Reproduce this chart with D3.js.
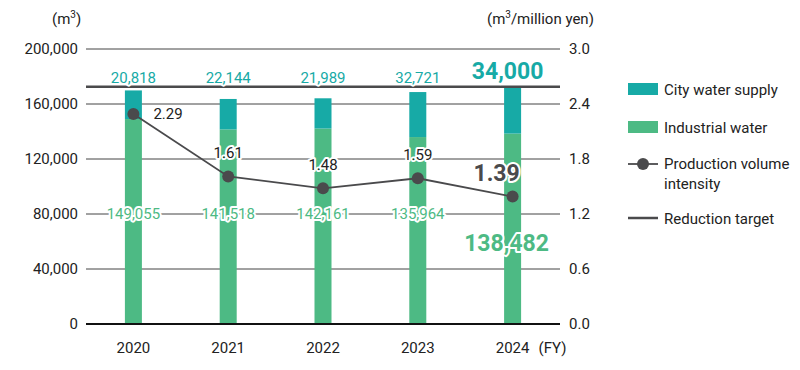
<!DOCTYPE html>
<html>
<head>
<meta charset="utf-8">
<script src="https://cdn.jsdelivr.net/npm/d3@7"></script>
<style>
  body { margin: 0; background: #fff; }
  svg text { font-family: Roboto, "Liberation Sans", sans-serif; }
</style>
</head>
<body>
<div id="chart_container"></div>
<script>
// Data
var years = ["2020", "2021", "2022", "2023", "2024"];
var industrial = [149055, 141518, 142161, 135964, 138482];
var city = [20818, 22144, 21989, 32721, 34000];
var intensity = [2.29, 1.61, 1.48, 1.59, 1.39];
var target = 172482;
var left_ticks = [0, 40000, 80000, 120000, 160000, 200000];
var right_ticks = [0, 0.6, 1.2, 1.8, 2.4, 3.0];

// Chart dimensions
var width = 800, height = 370;
var margin = {top: 49, right: 240, bottom: 46, left: 86};
var plot_w = width - margin.left - margin.right;
var plot_h = height - margin.top - margin.bottom;

var teal = "#17aaa6", green = "#4dba84", gray = "#4a4a4c";

var x_scale = d3.scaleBand().domain(years).range([0, plot_w]);
var y_scale = d3.scaleLinear().domain([0, 200000]).range([plot_h, 0]);
var y2_scale = d3.scaleLinear().domain([0, 3]).range([plot_h, 0]);
var bar_w = 17;

var svg = d3.select("#chart_container")
    .append("svg")
    .attr("width", width)
    .attr("height", height);

var chart = svg.append("g")
    .attr("transform", "translate(" + margin.left + "," + margin.top + ")");

// Gridlines
chart.append("g")
    .selectAll("line")
    .data(left_ticks.slice(1))
    .enter()
    .append("line")
    .attr("x1", 0).attr("x2", plot_w)
    .attr("y1", function(d) { return y_scale(d); })
    .attr("y2", function(d) { return y_scale(d); })
    .attr("stroke", "#444")
    .attr("stroke-width", 1);

// Left axis labels
chart.append("g")
    .selectAll("text")
    .data(left_ticks)
    .enter()
    .append("text")
    .attr("x", -8)
    .attr("y", function(d) { return y_scale(d); })
    .attr("dy", "0.36em")
    .attr("text-anchor", "end")
    .style("font-size", "15px")
    .attr("fill", "#222")
    .text(function(d) { return d3.format(",")(d); });

// Right axis labels
chart.append("g")
    .selectAll("text")
    .data(right_ticks)
    .enter()
    .append("text")
    .attr("x", plot_w + 9)
    .attr("y", function(d) { return y2_scale(d); })
    .attr("dy", "0.36em")
    .style("font-size", "15px")
    .attr("fill", "#222")
    .text(function(d) { return d.toFixed(1); });

// Bars
var bars = chart.append("g");
bars.selectAll(".ind")
    .data(years)
    .enter()
    .append("rect")
    .attr("x", function(d) { return x_scale(d) + x_scale.bandwidth() / 2 - bar_w / 2; })
    .attr("y", function(d, i) { return y_scale(industrial[i]); })
    .attr("width", bar_w)
    .attr("height", function(d, i) { return y_scale(0) - y_scale(industrial[i]); })
    .attr("fill", green);
bars.selectAll(".city")
    .data(years)
    .enter()
    .append("rect")
    .attr("x", function(d) { return x_scale(d) + x_scale.bandwidth() / 2 - bar_w / 2; })
    .attr("y", function(d, i) { return y_scale(industrial[i] + city[i]); })
    .attr("width", bar_w)
    .attr("height", function(d, i) { return y_scale(industrial[i]) - y_scale(industrial[i] + city[i]); })
    .attr("fill", teal);

// Baseline
chart.append("line")
    .attr("x1", 0).attr("x2", plot_w)
    .attr("y1", y_scale(0)).attr("y2", y_scale(0))
    .attr("stroke", "#111")
    .attr("stroke-width", 2);

// Reduction target
chart.append("line")
    .attr("x1", 0).attr("x2", plot_w)
    .attr("y1", y_scale(target)).attr("y2", y_scale(target))
    .attr("stroke", gray)
    .attr("stroke-width", 2.5);

// Intensity line
var cx = function(i) { return x_scale(years[i]) + x_scale.bandwidth() / 2; };
chart.append("path")
    .datum(intensity)
    .attr("d", d3.line()
        .x(function(d, i) { return cx(i); })
        .y(function(d) { return y2_scale(d); }))
    .attr("fill", "none")
    .attr("stroke", gray)
    .attr("stroke-width", 1.8);
chart.selectAll(".dot")
    .data(intensity)
    .enter()
    .append("circle")
    .attr("cx", function(d, i) { return cx(i); })
    .attr("cy", function(d) { return y2_scale(d); })
    .attr("r", 6)
    .attr("fill", gray);

// Value labels (white halo)
function halo(sel) {
    return sel.attr("stroke", "#fff")
        .attr("stroke-width", 4)
        .attr("paint-order", "stroke")
        .attr("stroke-linejoin", "round");
}
var last = years.length - 1;

halo(chart.append("g").selectAll("text")
    .data(city)
    .enter()
    .append("text")
    .attr("x", function(d, i) { return i == last ? cx(i) - 5 : cx(i); })
    .attr("y", function(d, i) { return i == last ? y_scale(industrial[i] + d) - 8 : y_scale(target) - 4; })
    .attr("text-anchor", "middle")
    .style("font-size", function(d, i) { return i == last ? "23px" : "15px"; })
    .style("font-weight", function(d, i) { return i == last ? "bold" : "normal"; })
    .attr("fill", teal)
    .text(function(d) { return d3.format(",")(d); }));

halo(chart.append("g").selectAll("text")
    .data(industrial)
    .enter()
    .append("text")
    .attr("x", function(d, i) { return i == last ? cx(i) - 6 : cx(i); })
    .attr("y", function(d, i) { return i == last ? y_scale(80000) + 29 : y_scale(80000); })
    .attr("dy", "0.36em")
    .attr("text-anchor", "middle")
    .style("font-size", function(d, i) { return i == last ? "23px" : "15px"; })
    .style("font-weight", function(d, i) { return i == last ? "bold" : "normal"; })
    .attr("fill", green)
    .text(function(d) { return d3.format(",")(d); }));

halo(chart.append("g").selectAll("text")
    .data(intensity)
    .enter()
    .append("text")
    .attr("x", function(d, i) { return i == 0 ? cx(i) + 20 : (i == last ? cx(i) - 16 : cx(i)); })
    .attr("y", function(d, i) { return i == 0 ? y2_scale(d) + 5 : (i == last ? y2_scale(d) - 16 : y2_scale(d) - 18); })
    .attr("text-anchor", function(d, i) { return i == 0 ? "start" : "middle"; })
    .style("font-size", function(d, i) { return i == last ? "23px" : "15px"; })
    .style("font-weight", function(d, i) { return i == last ? "bold" : "normal"; })
    .attr("fill", function(d, i) { return i == last ? gray : "#222"; })
    .text(function(d) { return d.toFixed(2); }));

// X axis labels
chart.append("g")
    .selectAll("text")
    .data(years)
    .enter()
    .append("text")
    .attr("x", function(d, i) { return cx(i); })
    .attr("y", plot_h + 29)
    .attr("text-anchor", "middle")
    .style("font-size", "15px")
    .attr("fill", "#222")
    .text(function(d) { return d; });
chart.append("text")
    .attr("x", cx(last) + 26)
    .attr("y", plot_h + 29)
    .style("font-size", "15px")
    .attr("fill", "#222")
    .text("(FY)");

// Units
svg.append("text")
    .attr("x", 52).attr("y", 24)
    .style("font-size", "15px").attr("fill", "#222")
    .html("(m<tspan dy='-6' font-size='10'>3</tspan><tspan dy='6'>)</tspan>");
svg.append("text")
    .attr("x", 487).attr("y", 24)
    .style("font-size", "15px").attr("fill", "#222")
    .html("(m<tspan dy='-6' font-size='10'>3</tspan><tspan dy='6'>/million yen)</tspan>");

// Legend
var legend = svg.append("g").attr("transform", "translate(628,0)");
legend.append("rect").attr("x", 0).attr("y", 83).attr("width", 30).attr("height", 12).attr("fill", teal);
legend.append("rect").attr("x", 0).attr("y", 121).attr("width", 30).attr("height", 12).attr("fill", green);
legend.append("line").attr("x1", 0).attr("x2", 30).attr("y1", 164).attr("y2", 164).attr("stroke", gray).attr("stroke-width", 1.8);
legend.append("circle").attr("cx", 15).attr("cy", 164).attr("r", 6).attr("fill", gray);
legend.append("line").attr("x1", 0).attr("x2", 30).attr("y1", 218).attr("y2", 218).attr("stroke", gray).attr("stroke-width", 2.5);
var leg_text = [["City water supply", 95], ["Industrial water", 133], ["Production volume", 169], ["intensity", 189], ["Reduction target", 224]];
legend.selectAll(".lt")
    .data(leg_text)
    .enter()
    .append("text")
    .attr("x", 36)
    .attr("y", function(d) { return d[1]; })
    .style("font-size", "15px")
    .attr("fill", "#222")
    .text(function(d) { return d[0]; });
</script>
</body>
</html>
